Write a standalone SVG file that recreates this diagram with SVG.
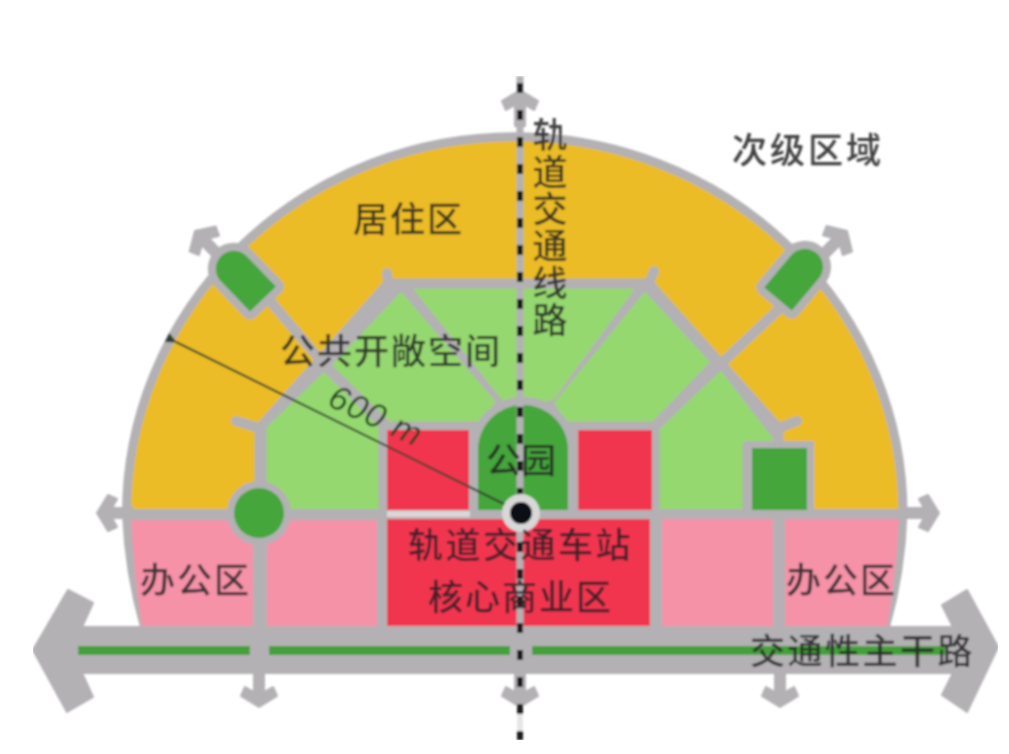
<svg xmlns="http://www.w3.org/2000/svg" width="1009" height="754" viewBox="0 0 1009 754">
<style>
.road{fill:none;stroke:#b3b1b4;stroke-width:10;stroke-linecap:round;stroke-linejoin:round}
.g{fill:#b3b1b4;stroke:#b3b1b4;stroke-width:2;stroke-linejoin:round}
.lg{fill:#95d86f;stroke:#95d86f;stroke-width:3;stroke-linejoin:round}
.gr{fill:#44a63a}
.pk{fill:#f592a8}
.rd{fill:#f2344f}
.t{font-family:"Noto Sans CJK SC","Liberation Sans",sans-serif;font-size:35px;font-weight:500;fill:#222222;fill-opacity:.85}
</style>
<defs>
<polygon id="arr" points="0,0 18,11 14,20 5,15 5,36 -5,36 -5,15 -14,20 -18,11"/>
<filter id="soft" x="0" y="0" width="1" height="1"><feGaussianBlur stdDeviation="0.8"/></filter>
<marker id="tip" markerWidth="12" markerHeight="10" refX="1" refY="5" orient="auto" markerUnits="userSpaceOnUse"><path d="M0,5 L11,0 L11,10 Z" fill="#2f3d2f"/></marker>
</defs>
<rect width="1009" height="754" fill="#ffffff"/>
<g filter="url(#soft)">
<g id="dome">
<path d="M126.500,514 A388,377 0 0 1 903,514 Q901,575 884,632 L146,632 Q129,575 126.500,514 Z" fill="#ebbc25" stroke="#b3b1b4" stroke-width="9"/>
<path d="M126.500,510 H903 Q901,575 884,632 L146,632 Q129,575 126.500,510 Z" fill="#b3b1b4"/>
<path d="M388,283 H649 L779,428 V514 H259 V428 L318,362 Z" fill="#b3b1b4" stroke="#b3b1b4" stroke-width="9" stroke-linejoin="round"/>
</g>
<g id="lower-blocks">
<path class="pk" d="M131,520 H253 V628 H142 Q134,575 131,520 Z"/>
<rect class="pk" x="267" y="520" width="110" height="108"/>
<rect class="rd" x="387" y="518" width="263" height="110"/>
<rect class="pk" x="662" y="519" width="111" height="109"/>
<path class="pk" d="M785,519 H899 Q896,575 887,628 H785 Z"/>
</g>
<g id="open-space">
<path class="lg" d="M268,508 H377 V427 L324,374 L268,428 Z"/>
<path class="lg" d="M401,294 L334,365 L390,420 H480 L494,402 Z"/>
<path class="lg" d="M416,290 H632 L553,398 L530,404 L505,401 Z"/>
<path class="lg" d="M645,294 L708,362 L652,420 H566 L556,403 Z"/>
<path class="lg" d="M720,372 L661,430 V508 H741 V441 H773 Z"/>
</g>
<g id="connectors">
<path class="road" d="M126,514 H903"/>
<path class="road" d="M260,514 V632"/>
<path class="road" d="M236,421 L259,428 M388,283 L387,273 M649,283 L654,271 M779,428 L797,421"/>
<path class="road" d="M265,295 L322,362 M778,310 L656,425"/>
<rect x="387" y="511" width="120" height="6" fill="#dcd6d6"/>
<g id="main-road">
<path class="g" d="M68,590 L93,603 L82,627 H953 L942,605 L967,590 L998,647 L967,712 L942,695 L953,673 H82 L93,697 L67,712 L33,650 Z"/>
<path d="M78,650.500 H250 M269,650.500 H510 M532,650.500 H945" fill="none" stroke="#44a03a" stroke-width="9"/>
</g>
<use href="#arr" class="g" transform="translate(259,707) rotate(180)"/>
<use href="#arr" class="g" transform="translate(520,707) rotate(180)"/>
<use href="#arr" class="g" transform="translate(780,707) rotate(180)"/>
<use href="#arr" class="g" transform="translate(97,513) rotate(-90)"/>
<use href="#arr" class="g" transform="translate(939,513) rotate(90)"/>
<use href="#arr" class="g" transform="translate(520,90)"/>
<use href="#arr" class="g" transform="translate(195,231) rotate(-44)"/>
<use href="#arr" class="g" transform="translate(847,231) rotate(45)"/>
</g>
<g id="park-left-capsule"><path class="gr" transform="translate(263,299) rotate(-44)" d="M-18,0 V-42 A18,18 0 0 1 18,-42 V0 Z" stroke="#b3b1b4" stroke-width="16" stroke-linejoin="round" paint-order="stroke"/></g>
<g id="park-right-capsule"><path class="gr" transform="translate(778,299) rotate(40)" d="M-18,0 V-42 A18,18 0 0 1 18,-42 V0 Z" stroke="#b3b1b4" stroke-width="16" stroke-linejoin="round" paint-order="stroke"/></g>
<g id="park-circle"><circle cx="259" cy="513" r="25" class="gr" stroke="#b3b1b4" stroke-width="14" paint-order="stroke"/></g>
<g id="park-square"><rect x="752" y="448" width="55" height="62" class="gr" stroke="#b3b1b4" stroke-width="14" paint-order="stroke"/></g>
<g id="red-blocks">
<rect class="rd" x="387" y="430" width="82" height="80"/>
<rect class="rd" x="578" y="430" width="74" height="80"/>
</g>
<g id="park">
<path d="M478,510 V450 A45,45 0 0 1 568,450 V510 Z" fill="#44a63a" stroke="#b3b1b4" stroke-width="16" paint-order="stroke"/>
</g>
<g id="rail">
<path d="M520,76 V705" stroke="#b3b1b4" stroke-width="7" fill="none"/>
<path d="M520,705 V740" stroke="#e6e6e6" stroke-width="6" fill="none"/>
<path d="M520,83 V740" stroke="#1c1c1c" stroke-width="6" stroke-dasharray="10 17" fill="none"/>
</g>
<g id="radius">
<path d="M510,507 L176,342" stroke="#33412f" stroke-width="2" fill="none" marker-end="url(#tip)"/>
<text x="326" y="405" transform="rotate(25 326 405)" style="font-family:'Liberation Sans',sans-serif;font-size:34px;font-style:italic;font-weight:500;fill:#1f3d1f;letter-spacing:1px">600 m</text>
</g>
<g id="station">
<circle cx="521" cy="513" r="19" fill="#d8d8d8"/>
<circle cx="521" cy="513" r="11" fill="#111116"/>
</g>
<g id="labels">
<text class="t" x="732" y="163" style="letter-spacing:3px">次级区域</text>
<text class="t" x="550" y="117" style="writing-mode:vertical-rl;letter-spacing:2px;text-orientation:upright">轨道交通线路</text>
<text class="t" x="353" y="232" style="letter-spacing:2px">居住区</text>
<text class="t" x="280" y="364" style="letter-spacing:2px">公共开敞空间</text>
<text class="t" x="486" y="473">公园</text>
<text class="t" x="408" y="558" style="letter-spacing:2.500px">轨道交通车站</text>
<text class="t" x="428" y="610" style="letter-spacing:2px">核心商业区</text>
<text class="t" x="140" y="593" style="letter-spacing:2px">办公区</text>
<text class="t" x="786" y="593" style="letter-spacing:2px">办公区</text>
<text class="t" x="750" y="664" style="letter-spacing:2.500px">交通性主干路</text>
</g>
</g>
</svg>
